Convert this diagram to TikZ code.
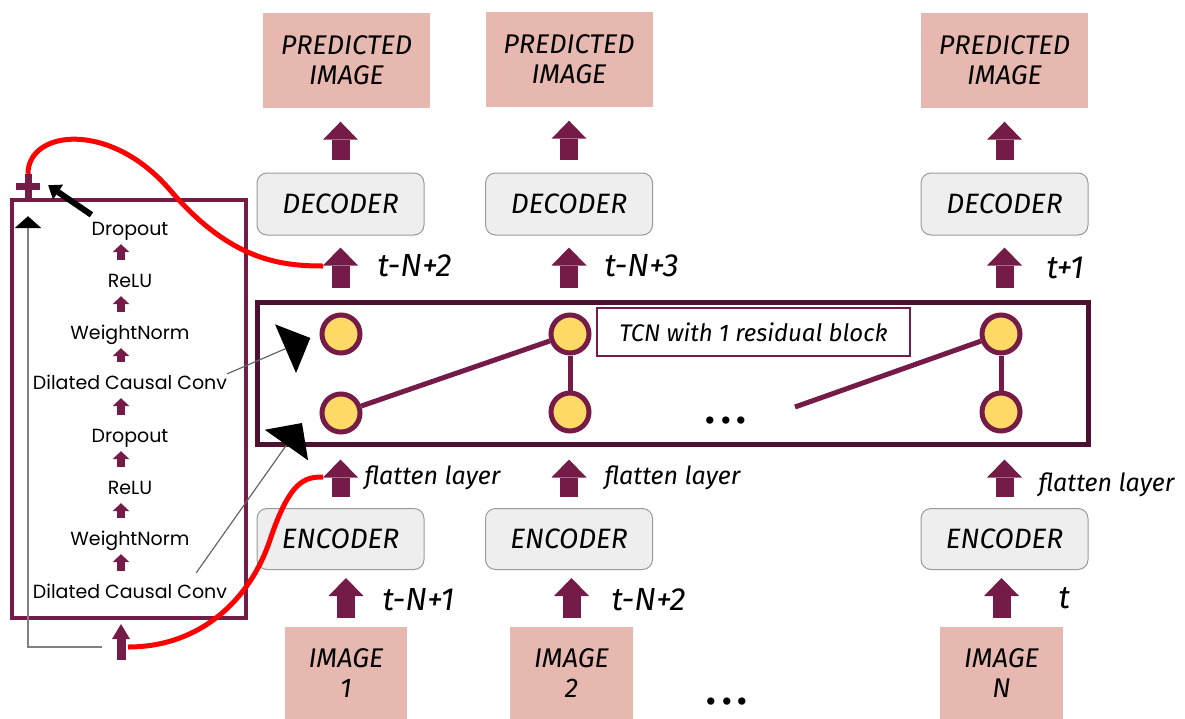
\documentclass[tikz,border=0pt]{standalone}
\usepackage{fontspec}
\setmainfont{Fira Sans}
\newfontfamily\layerfont{Poppins}
\usetikzlibrary{arrows.meta}

\definecolor{maroon}{HTML}{741B47}
\definecolor{darkmaroon}{HTML}{4C1130}
\definecolor{salmon}{HTML}{E6B8AF}
\definecolor{boxgray}{HTML}{EEEEEE}
\definecolor{bordergray}{HTML}{999999}
\definecolor{unityellow}{HTML}{FFD966}

\begin{document}
\begin{tikzpicture}[x=1pt, y=-1pt,
  imgbox/.style={fill=salmon, minimum width=167pt, minimum height=95pt,
    inner sep=0pt, align=center, font=\fontsize{27}{30}\selectfont\itshape},
  coder/.style={draw=bordergray, fill=boxgray, rounded corners=10pt,
    line width=1pt, minimum width=167pt, minimum height=62pt,
    font=\fontsize{28}{30}\selectfont\itshape},
  unit/.style={circle, draw=maroon, fill=unityellow, line width=5pt,
    minimum size=38pt, inner sep=0pt},
  timelbl/.style={anchor=west, font=\fontsize{32}{34}\selectfont\itshape},
  flatlbl/.style={anchor=west, font=\fontsize{25}{27}\selectfont\itshape},
  layer/.style={inner sep=0pt, text height=15pt, text depth=4pt, anchor=base,
    font=\layerfont\fontsize{19}{21}\selectfont},
  dotsmark/.style={font=\fontsize{40}{40}\selectfont\bfseries},
  bigarrow/.style={maroon, line width=18pt,
    -{Triangle[width=35pt, length=18pt, line width=0pt]}},
  smallarrow/.style={maroon, line width=8pt,
    -{Triangle[width=17pt, length=8pt, line width=0pt]},
    shorten <=12pt, shorten >=5pt},
  tcnlink/.style={maroon, line width=5pt},
  pointer/.style={gray!80!black, line width=1.2pt,
    -{Triangle[width=53pt, length=27pt, line width=0pt, color=black]}},
  residual/.style={red, line width=5pt},
]
\useasboundingbox (0,0) rectangle (1185,718);

% predicted frames
\node[imgbox] (p1) at (346.5,60) {PREDICTED\\IMAGE};
\node[imgbox] (p2) at (569,59) {PREDICTED\\IMAGE};
\node[imgbox] (p3) at (1004.5,60) {PREDICTED\\IMAGE};

% decoders and encoders
\node[coder] (d1) at (340.5,204) {DECODER};
\node[coder] (d2) at (569,204) {DECODER};
\node[coder] (d3) at (1004.5,204) {DECODER};
\node[coder, minimum height=61pt] (e1) at (340.5,539) {ENCODER};
\node[coder, minimum height=61pt] (e2) at (569,539) {ENCODER};
\node[coder, minimum height=61pt] (e3) at (1004.5,539) {ENCODER};

% input frames
\node[imgbox, minimum width=122pt, minimum height=92pt] (i1) at (346,673) {IMAGE\\1};
\node[imgbox, minimum width=123pt, minimum height=92pt] (i2) at (571.5,673) {IMAGE\\2};
\node[imgbox, minimum width=123pt, minimum height=92pt] (i3) at (1001.5,673) {IMAGE\\N};
\node[dotsmark] (moreimg) at (727,702) {.\hspace{6pt}.\hspace{6pt}.};

% TCN
\node[draw=darkmaroon, line width=5pt, minimum width=831pt, minimum height=142pt] (tcn) at (672.5,373) {};
\node[unit] (c11) at (341,334) {};
\node[unit] (c12) at (341,413) {};
\node[unit] (c21) at (570,334) {};
\node[unit] (c22) at (570,412) {};
\node[unit] (c31) at (1001,334) {};
\node[unit] (c32) at (1001,412) {};
\node[dotsmark] (moreunit) at (726,421) {.\hspace{6pt}.\hspace{6pt}.};
\node[draw=maroon, line width=2pt, minimum width=313pt, minimum height=48pt,
  font=\fontsize{24}{26}\selectfont\itshape] (tcnlbl) at (753.5,332) {TCN with 1 residual block};
\coordinate (gap) at (795,407);
\draw[tcnlink] (c12) -- (c21);
\draw[tcnlink] (c21) -- (c22);
\draw[tcnlink] (gap) -- (c31);
\draw[tcnlink] (c31) -- (c32);

% block arrows
\foreach \n in {1,2,3} {
  \draw[bigarrow, shorten <=13pt, shorten >=14pt] (d\n.north) -- (d\n.north |- p\n.south);
  \draw[bigarrow, shorten <=12pt, shorten >=12pt] (d\n.south |- tcn.north) -- (d\n.south);
  \draw[bigarrow, shorten <=11pt, shorten >=13pt] (e\n.north) -- (e\n.north |- tcn.south);
  \draw[bigarrow, shorten <=9pt, shorten >=8pt] (i\n.north) -- (i\n.north |- e\n.south);
}

% time steps
\node[timelbl] (tA) at (374,266) {t-N+2};
\node[timelbl] (tB) at (601,266) {t-N+3};
\node[timelbl] (tC) at (1043,268) {t+1};
\node[timelbl] (tD) at (379,600) {t-N+1};
\node[timelbl] (tE) at (608,600) {t-N+2};
\node[timelbl] (tF) at (1055,598) {t};
\node[flatlbl] (fA) at (361,478) {flatten layer};
\node[flatlbl] (fB) at (601,478) {flatten layer};
\node[flatlbl] (fC) at (1035,485) {flatten layer};

% residual block
\node[draw=maroon, line width=4pt, minimum width=234pt, minimum height=418pt] (lbox) at (129,409) {};
\node[layer] (dcc1) at (130,598) {Dilated Causal Conv};
\node[layer] (wn1) at (130,545) {WeightNorm};
\node[layer] (relu1) at (130,494) {ReLU};
\node[layer] (drop1) at (130,442) {Dropout};
\node[layer] (dcc2) at (130,389) {Dilated Causal Conv};
\node[layer] (wn2) at (130,339) {WeightNorm};
\node[layer] (relu2) at (130,287) {ReLU};
\node[layer] (drop2) at (130,235) {Dropout};
\foreach \a/\b in {dcc1/wn1, wn1/relu1, relu1/drop1, drop1/dcc2, dcc2/wn2, wn2/relu2, relu2/drop2}
  \draw[smallarrow] ([xshift=-9pt]\a.north) -- ([xshift=-9pt]\b.south);

\node[circle, inner sep=0pt, minimum size=24pt] (plus) at (28,186) {};
\draw[maroon, line width=7pt] (plus.north) -- (plus.south) (plus.west) -- (plus.east);

\coordinate (input) at (121,660);
\coordinate (skip) at (102,647);
\coordinate (inright) at (128,647);
\draw[maroon, line width=9pt, -{Triangle[width=18pt, length=15pt, line width=0pt]}, shorten >=4pt]
  (input) -- (input |- lbox.south);
\draw[gray, line width=1.2pt, -{Triangle[width=27pt, length=12pt, line width=0pt, color=black]}, shorten >=18pt]
  (skip) -| (plus.south);
\draw[line width=6pt, -{Triangle[width=18pt, length=12pt, line width=0pt]}, shorten >=14pt]
  ([yshift=5pt]drop2.north west) -- (plus.north east);

% links into the TCN
\coordinate (tcnin) at (302,423);
\draw[pointer, shorten >=10pt] (dcc2.north east) -- (c11.west);
\draw[pointer] ([xshift=-31pt, yshift=10pt]dcc1.north east) -- (tcnin);

% red curves
\coordinate (hA) at (323,266);
\coordinate (hB) at (323,477);
\draw[residual] (plus.north) .. controls (28,130) and (110,120) .. (170,190)
  .. controls (230,260) and (280,266) .. (hA);
\draw[residual] (inright) .. controls (200,647) and (250,600) .. (270,540)
  .. controls (290,480) and (305,477) .. (hB);
\end{tikzpicture}
\end{document}
